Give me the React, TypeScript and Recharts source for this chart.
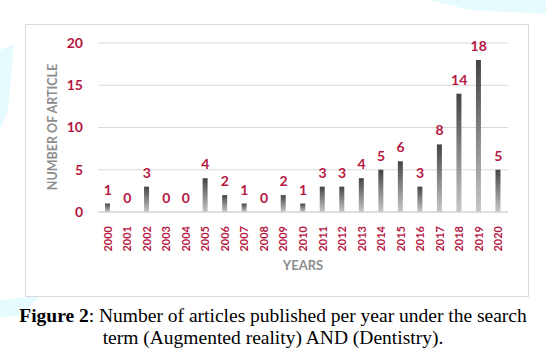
import React from "react";
import { ComposedChart, Bar, Line, XAxis, YAxis, CartesianGrid, LabelList } from "recharts";

const years = ["2000","2001","2002","2003","2004","2005","2006","2007","2008","2009","2010","2011","2012","2013","2014","2015","2016","2017","2018","2019","2020"];
const articles = [1,0,3,0,0,4,2,1,0,2,1,3,3,4,5,6,3,8,14,18,5];
const yTicks = [0,5,10,15,20];

const data = years.map((y, i) => ({ year: y, value: articles[i] }));

const RED = "#b5173f";
const FONT = "Lato, 'Open Sans', sans-serif";

const XTick = (props: any) => {
  const { x, y, payload } = props;
  return (
    <text x={x} y={y} transform={`rotate(-90, ${x}, ${y})`} textAnchor="end" dy={4}
      fill={RED} fontFamily={FONT} fontWeight={700} fontSize={11}>
      {payload.value}
    </text>
  );
};

const ValueLabel = (props: any) => {
  const { x, y, value } = props;
  return (
    <text x={Number(x)} y={Number(y) - 9} textAnchor="middle"
      fill={RED} fontFamily={FONT} fontWeight={700} fontSize={14}>
      {value}
    </text>
  );
};

export default function App() {
  return (
    <div style={{ position: "absolute", left: 0, top: 0, width: 546, height: 357, background: "#fff", overflow: "hidden" }}>
      <svg width={546} height={357} style={{ position: "absolute", left: 0, top: 0 }}>
        <polygon points="430,0 546,0 546,14 470,10" fill="#e6fbfd" />
        <polygon points="0,50 14,44 8,110 0,130" fill="#e6fbfd" />
        <polygon points="0,300 40,296 20,315 0,318" fill="#e6fbfd" />
      </svg>
      <div style={{ position: "absolute", left: 25, top: 24, width: 502, height: 271, border: "1px solid #d9d9d9", background: "#fff" }} />
      <div style={{ position: "absolute", left: 0, top: 0 }}>
        <ComposedChart width={546} height={300} data={data}
          margin={{ top: 43, right: 38, left: 68, bottom: 28 }}>
          <defs>
            <linearGradient id="barGrad" x1="0" y1="0" x2="0" y2="1">
              <stop offset="0%" stopColor="#444444" />
              <stop offset="100%" stopColor="#c8c8c8" />
            </linearGradient>
          </defs>
          <CartesianGrid vertical={false} stroke="#d9d9d9" strokeWidth={1} />
          <XAxis dataKey="year" interval={0} tick={<XTick />} tickLine={false}
            axisLine={{ stroke: "#d0d0d0" }} height={60} tickMargin={8} />
          <YAxis domain={[0, 20]} ticks={yTicks} width={30} axisLine={false} tickLine={false}
            tickSize={0} tickMargin={15}
            tick={{ fill: RED, fontFamily: FONT, fontWeight: 700, fontSize: 14 }} />
          <Bar dataKey="value" fill="url(#barGrad)" barSize={5} isAnimationActive={false} />
          <Line dataKey="value" stroke="none" dot={false} activeDot={false} isAnimationActive={false} legendType="none">
            <LabelList dataKey="value" content={<ValueLabel />} />
          </Line>
        </ComposedChart>
      </div>
      <div style={{ position: "absolute", left: 253, top: 257, width: 100, textAlign: "center", fontFamily: FONT, fontWeight: 700, fontSize: 13, color: "#8c8c8c" }}>YEARS</div>
      <div style={{ position: "absolute", left: 52, top: 127, transform: "translate(-50%, -50%) rotate(-90deg)", whiteSpace: "nowrap", fontFamily: FONT, fontWeight: 700, fontSize: 12.5, color: "#8c8c8c" }}>NUMBER OF ARTICLE</div>
      <div style={{ position: "absolute", left: 0, top: 305, width: 546, textAlign: "center", fontFamily: "'Liberation Serif', 'Times New Roman', serif", fontSize: 19.5, lineHeight: "22px", color: "#000" }}>
        <b>Figure 2</b>: Number of articles published per year under the search<br />term (Augmented reality) AND (Dentistry).
      </div>
    </div>
  );
}
